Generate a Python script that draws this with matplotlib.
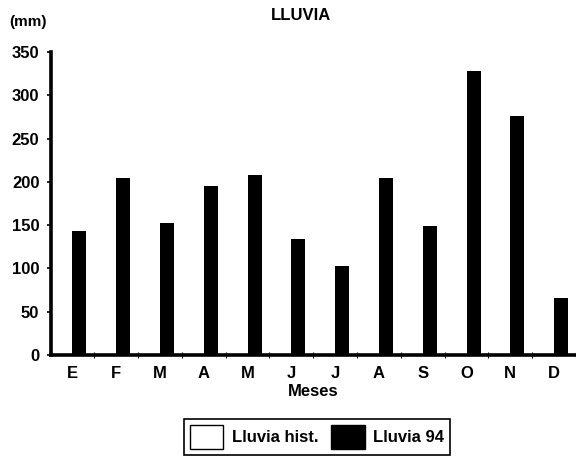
import matplotlib
matplotlib.use("Agg")
import matplotlib.pyplot as plt
from matplotlib.patches import Patch
import numpy as np

plt.rcParams['font.family'] = ['Liberation Sans', 'DejaVu Sans']
plt.rcParams['font.weight'] = 'bold'

# data
meses = ["E", "F", "M", "A", "M", "J", "J", "A", "S", "O", "N", "D"]
lluvia_94 = [143, 204, 153, 195, 208, 134, 103, 205, 149, 328, 276, 66]
y_ticks = [0, 50, 100, 150, 200, 250, 300, 350]

fig = plt.figure(figsize=(5.76, 4.58), dpi=100)
ax = fig.add_axes([0.0877, 0.2249, 0.9123, 0.6616])

x = np.arange(len(meses))
ax.bar(x, lluvia_94, width=0.32, align='edge', color='black')

ax.set_xlim(-0.5, 11.34)
ax.set_ylim(0, 350)
ax.set_yticks(y_ticks)
ax.set_xticks(x)
ax.set_xticklabels(meses, fontsize=12, fontweight='bold')
ax.set_xticks(np.arange(len(meses)) + 0.5, minor=True)
for lbl in ax.get_yticklabels():
    lbl.set_fontsize(12)
    lbl.set_fontweight('bold')

ax.tick_params(axis='x', which='major', length=0, pad=8)
ax.tick_params(axis='x', which='minor', length=5, width=0.8, direction='inout')
ax.tick_params(axis='y', length=3, width=1.2, pad=5)

ax.spines['top'].set_visible(False)
ax.spines['right'].set_visible(False)
ax.spines['left'].set_linewidth(2.6)
ax.spines['bottom'].set_linewidth(2.6)

fig.text(301 / 576, 1 - 15 / 458, "LLUVIA", fontsize=12, fontweight='bold',
         ha='center', va='center')
fig.text(28 / 576, 1 - 22 / 458, "(mm)", fontsize=11, fontweight='bold',
         ha='center', va='center')
fig.text(313 / 576, 1 - 392 / 458, "Meses", fontsize=12, fontweight='bold',
         ha='center', va='center')

handles = [Patch(facecolor='white', edgecolor='black', linewidth=1),
           Patch(facecolor='black', edgecolor='black')]
leg = fig.legend(handles, ["Lluvia hist.", "Lluvia 94"], ncol=2,
                 loc='center', bbox_to_anchor=(317 / 576, 1 - 437 / 458),
                 fancybox=False, edgecolor='black', framealpha=1,
                 handlelength=2.0, handleheight=1.9, handletextpad=0.5,
                 columnspacing=0.8, borderpad=0.35,
                 prop={'size': 12, 'weight': 'bold'})
leg.get_frame().set_linewidth(1.2)

fig.savefig("out.png", dpi=100)
